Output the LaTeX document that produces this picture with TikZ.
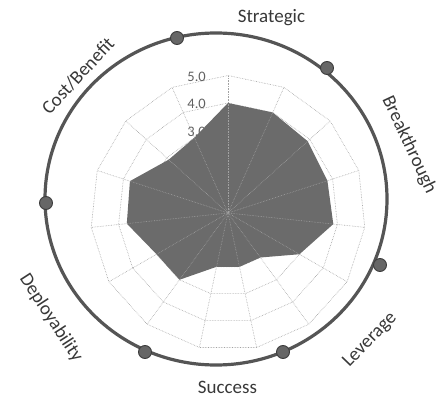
\documentclass[tikz,border=0pt]{standalone}
\usepackage{fontspec}
\setmainfont{Carlito}

\definecolor{webgray}{HTML}{A2A2A2}
\definecolor{areagray}{HTML}{6B6B6B}
\definecolor{rimgray}{HTML}{555555}
\def\unit{27.5}

\begin{document}
\begin{tikzpicture}[x=1pt, y=1pt,
    rim/.style={draw=rimgray, line width=3.2pt},
    knob/.style={circle, draw=rimgray!70!black, fill=rimgray!90, line width=0.9pt, minimum size=13pt, inner sep=0pt},
    axislabel/.style={font=\fontsize{19}{19}\selectfont, text=black!78, inner sep=0pt},
    ticklabel/.style={font=\fontsize{14.5}{14.5}\selectfont, text=black!62, anchor=east, inner sep=0pt},
    web/.style={draw=webgray, densely dotted, line width=0.6pt}]
  \useasboundingbox (0,0) rectangle (446,399);

  \draw[rim] (216,200) ellipse [x radius=171, y radius=166];

  \node[knob] (knobA) at (177,361) {};
  \node[knob] (knobB) at (327,331) {};
  \node[knob] (knobC) at (380,134) {};
  \node[knob] (knobD) at (283,47) {};
  \node[knob] (knobE) at (145,47) {};
  \node[knob] (knobF) at (46,196) {};

  \node[axislabel] (strategic) at (271.5,381) {Strategic};
  \node[axislabel, rotate=-65] (breakthrough) at (409,254) {Breakthrough};
  \node[axislabel, rotate=46] (leverage) at (370,59) {Leverage};
  \node[axislabel] (success) at (227.5,12) {Success};
  \node[axislabel, rotate=-57] (deploy) at (51,81) {Deployability};
  \node[axislabel, rotate=47] (costbenefit) at (78,323) {Cost/Benefit};

  \begin{scope}[shift={(228,186)}]
    \foreach \r in {1,...,5}
      \draw[web] (90:\r*\unit) \foreach \a in {1,...,14} { -- (90-24*\a:\r*\unit) } -- cycle;
    \foreach \k in {1,...,5}
      \node[ticklabel] (tick\k) at (-22,\k*\unit-1) {\k.0};
    \fill[areagray] (90:4.0*\unit) -- (66:4.0*\unit) -- (42:3.9*\unit) -- (18:3.8*\unit)
      -- (-6:3.85*\unit) -- (-30:3.0*\unit) -- (-54:2.0*\unit) -- (-78:2.0*\unit)
      -- (-102:2.0*\unit) -- (-126:3.0*\unit) -- (-150:3.0*\unit) -- (-174:3.7*\unit)
      -- (162:3.75*\unit) -- (138:2.9*\unit) -- (114:3.0*\unit) -- cycle;
    \foreach \a in {0,...,14}
      \draw[web] (0,0) -- (90-24*\a:5*\unit);
  \end{scope}
\end{tikzpicture}
\end{document}
